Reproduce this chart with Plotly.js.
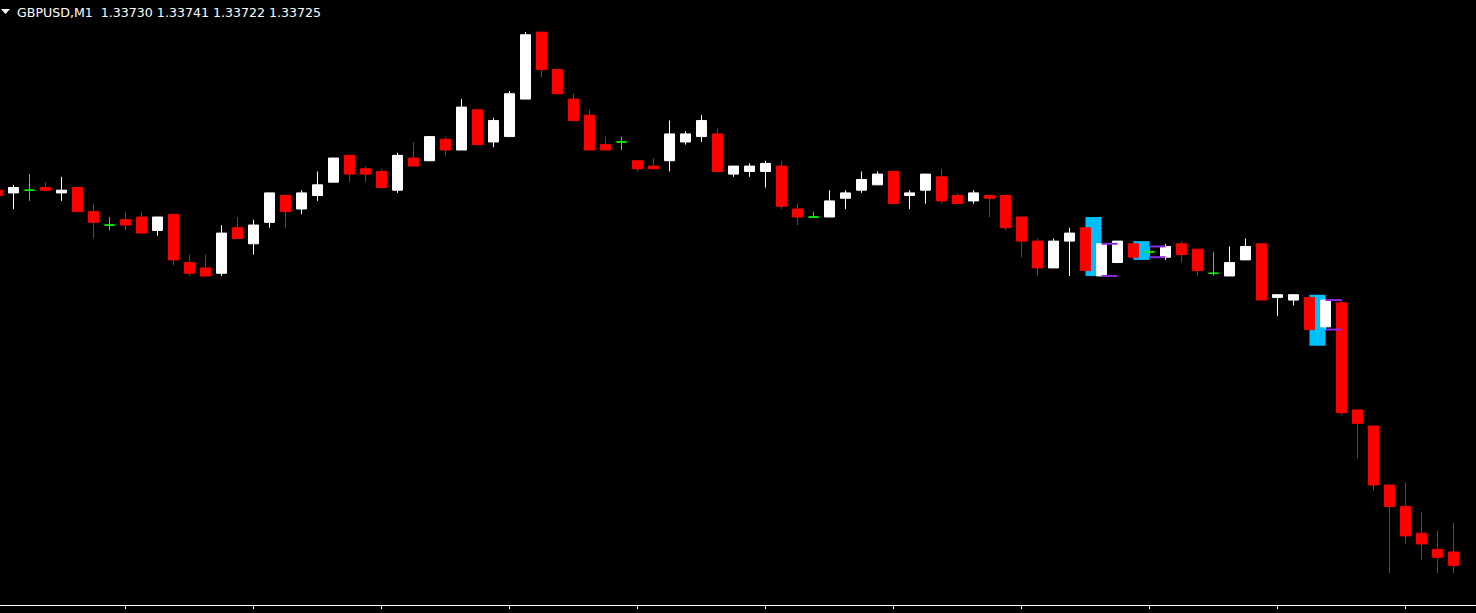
<!DOCTYPE html>
<html><head><meta charset="utf-8">
<script src="https://cdn.plot.ly/plotly-3.0.1.min.js"></script>
<style>html,body{margin:0;padding:0;background:#000;overflow:hidden}#chart{width:1476px;height:613px}</style>
</head><body><div id="chart"></div>
<script>
const symbol = "GBPUSD,M1";
const firstBar = -1;
// OHLC, one value per one-minute bar (bar -1 .. 90)
const open = [
 1.33865,
 1.33864,1.33865,1.33866,1.33864,1.33866,1.33857,1.33852,1.33854,1.33855,1.33850,
 1.33856,1.33838,1.33836,1.33834,1.33851,1.33845,1.33853,1.33863,1.33858,1.33863,
 1.33868,1.33878,1.33873,1.33872,1.33865,1.33877,1.33876,1.33884,1.33880,1.33895,
 1.33883,1.33885,1.33899,1.33924,1.33910,1.33899,1.33893,1.33882,1.33883,1.33876,
 1.33874,1.33876,1.33883,1.33885,1.33886,1.33871,1.33872,1.33872,1.33874,1.33858,
 1.33855,1.33855,1.33862,1.33865,1.33867,1.33872,1.33863,1.33865,1.33870,1.33863,
 1.33861,1.33863,1.33863,1.33855,1.33846,1.33836,1.33846,1.33851,1.33833,1.33838,
 1.33845,1.33842,1.33840,1.33845,1.33843,1.33834,1.33833,1.33839,1.33845,1.33825,
 1.33824,1.33825,1.33814,1.33823,1.33783,1.33777,1.33755,1.33747,1.33737,1.33731,
 1.33730];
const high = [
 1.33865,
 1.33867,1.33871,1.33868,1.33870,1.33866,1.33860,1.33855,1.33857,1.33857,1.33855,
 1.33856,1.33841,1.33841,1.33852,1.33855,1.33854,1.33864,1.33863,1.33865,1.33872,
 1.33877,1.33878,1.33874,1.33873,1.33879,1.33883,1.33885,1.33885,1.33899,1.33895,
 1.33892,1.33902,1.33924,1.33924,1.33910,1.33901,1.33895,1.33885,1.33885,1.33876,
 1.33877,1.33891,1.33887,1.33893,1.33888,1.33874,1.33875,1.33876,1.33876,1.33860,
 1.33857,1.33865,1.33865,1.33872,1.33872,1.33872,1.33865,1.33871,1.33873,1.33864,
 1.33865,1.33863,1.33863,1.33855,1.33847,1.33847,1.33851,1.33855,1.33845,1.33846,
 1.33846,1.33844,1.33845,1.33846,1.33843,1.33842,1.33844,1.33847,1.33845,1.33826,
 1.33826,1.33826,1.33824,1.33824,1.33783,1.33777,1.33755,1.33756,1.33745,1.33738,
 1.33741];
const low = [
 1.33863,
 1.33858,1.33861,1.33865,1.33861,1.33857,1.33847,1.33850,1.33850,1.33849,1.33848,
 1.33837,1.33833,1.33833,1.33833,1.33847,1.33841,1.33851,1.33851,1.33856,1.33861,
 1.33868,1.33868,1.33868,1.33866,1.33864,1.33874,1.33876,1.33878,1.33880,1.33882,
 1.33881,1.33885,1.33899,1.33907,1.33901,1.33891,1.33880,1.33880,1.33880,1.33872,
 1.33873,1.33872,1.33882,1.33883,1.33872,1.33870,1.33870,1.33866,1.33858,1.33852,
 1.33855,1.33855,1.33858,1.33864,1.33867,1.33860,1.33858,1.33860,1.33860,1.33860,
 1.33860,1.33855,1.33850,1.33840,1.33833,1.33836,1.33833,1.33833,1.33833,1.33838,
 1.33839,1.33840,1.33839,1.33838,1.33833,1.33833,1.33833,1.33839,1.33824,1.33818,
 1.33822,1.33807,1.33813,1.33781,1.33765,1.33753,1.33722,1.33733,1.33727,1.33722,
 1.33722];
const close = [
 1.33863,
 1.33866,1.33865,1.33865,1.33865,1.33857,1.33853,1.33852,1.33852,1.33849,1.33855,
 1.33839,1.33834,1.33833,1.33849,1.33847,1.33852,1.33864,1.33857,1.33864,1.33867,
 1.33877,1.33871,1.33871,1.33866,1.33878,1.33874,1.33885,1.33880,1.33896,1.33882,
 1.33891,1.33901,1.33923,1.33910,1.33901,1.33891,1.33880,1.33880,1.33883,1.33873,
 1.33873,1.33886,1.33886,1.33891,1.33872,1.33874,1.33874,1.33875,1.33859,1.33855,
 1.33855,1.33861,1.33864,1.33869,1.33871,1.33860,1.33864,1.33871,1.33861,1.33860,
 1.33864,1.33862,1.33851,1.33846,1.33836,1.33846,1.33849,1.33835,1.33845,1.33846,
 1.33840,1.33842,1.33844,1.33841,1.33835,1.33834,1.33838,1.33844,1.33824,1.33826,
 1.33826,1.33813,1.33824,1.33782,1.33778,1.33755,1.33747,1.33736,1.33733,1.33728,
 1.33725];
// indicator marks (bar numbers)
const boxBars = [67, 70, 81];      // blue high-low boxes
const levelBars = [68, 71, 82];    // purple high/low levels

const bars = open.map((_, i) => firstBar + i);
const at = b => b - firstBar;

const groups = {bull: [], bear: [], doji: []};
bars.forEach((b, i) => {
  const g = close[i] > open[i] ? 'bull' : (close[i] < open[i] ? 'bear' : 'doji');
  groups[g].push(i);
});
function candle(idx, col) {
  return {
    type: 'candlestick',
    x: idx.map(i => bars[i]), open: idx.map(i => open[i]), high: idx.map(i => high[i]),
    low: idx.map(i => low[i]), close: idx.map(i => close[i]),
    increasing: {line: {color: col, width: 1}, fillcolor: col},
    decreasing: {line: {color: col, width: 1}, fillcolor: col},
    whiskerwidth: 0, hoverinfo: 'skip', showlegend: false
  };
}
const boxTrace = {
  type: 'bar', x: boxBars.map(b => b + 0.5), width: boxBars.map(() => 1),
  base: boxBars.map(b => low[at(b)]), y: boxBars.map(b => high[at(b)] - low[at(b)]),
  marker: {color: '#00BFFF', line: {width: 0}}, hoverinfo: 'skip', showlegend: false
};
const lx = [], ly = [];
levelBars.forEach(b => {
  [high[at(b)], low[at(b)]].forEach(v => { lx.push(b, b + 1, null); ly.push(v, v, null); });
});
const levelTrace = {type: 'scatter', mode: 'lines', x: lx, y: ly,
  line: {color: '#8A2BE2', width: 2}, hoverinfo: 'skip', showlegend: false};

const n = open.length - 1;
const header = symbol + '\u00a0\u00a0' + [open[n], high[n], low[n], close[n]].map(v => v.toFixed(5)).join(' ');

const layout = {
  width: 1476, height: 613,
  paper_bgcolor: '#000', plot_bgcolor: '#000',
  margin: {l: 0, r: 0, t: 0, b: 8},
  boxgap: 0.375, boxgroupgap: 0,
  showlegend: false,
  xaxis: {range: [-0.84375, 91.40625], rangeslider: {visible: false}, showgrid: false, zeroline: false,
    showline: true, linecolor: '#fff', linewidth: 1, ticks: 'outside', ticklen: 3, tickwidth: 1,
    tickcolor: '#fff', tickmode: 'linear', tick0: 7, dtick: 8, showticklabels: false, fixedrange: true},
  yaxis: {range: [1.3371022, 1.3393597], visible: false, showgrid: false, zeroline: false, fixedrange: true},
  shapes: [
    {type: 'path', xref: 'paper', yref: 'paper', layer: 'above',
     path: 'M 0.000678 0.985124 L 0.006775 0.985124 L 0.003726 0.976860 Z',
     fillcolor: '#fff', line: {width: 0}}
  ],
  annotations: [
    {xref: 'paper', yref: 'paper', x: 0, y: 1, xanchor: 'left', yanchor: 'top', xshift: 15, yshift: -3,
     text: header, showarrow: false, font: {family: 'DejaVu Sans', size: 12.6, color: '#fff'}}
  ]
};
Plotly.newPlot('chart', [boxTrace, candle(groups.bull, '#FFFFFF'), candle(groups.bear, '#FF0000'),
  candle(groups.doji, '#00FF00'), levelTrace], layout, {staticPlot: true, displayModeBar: false});
</script></body></html>
